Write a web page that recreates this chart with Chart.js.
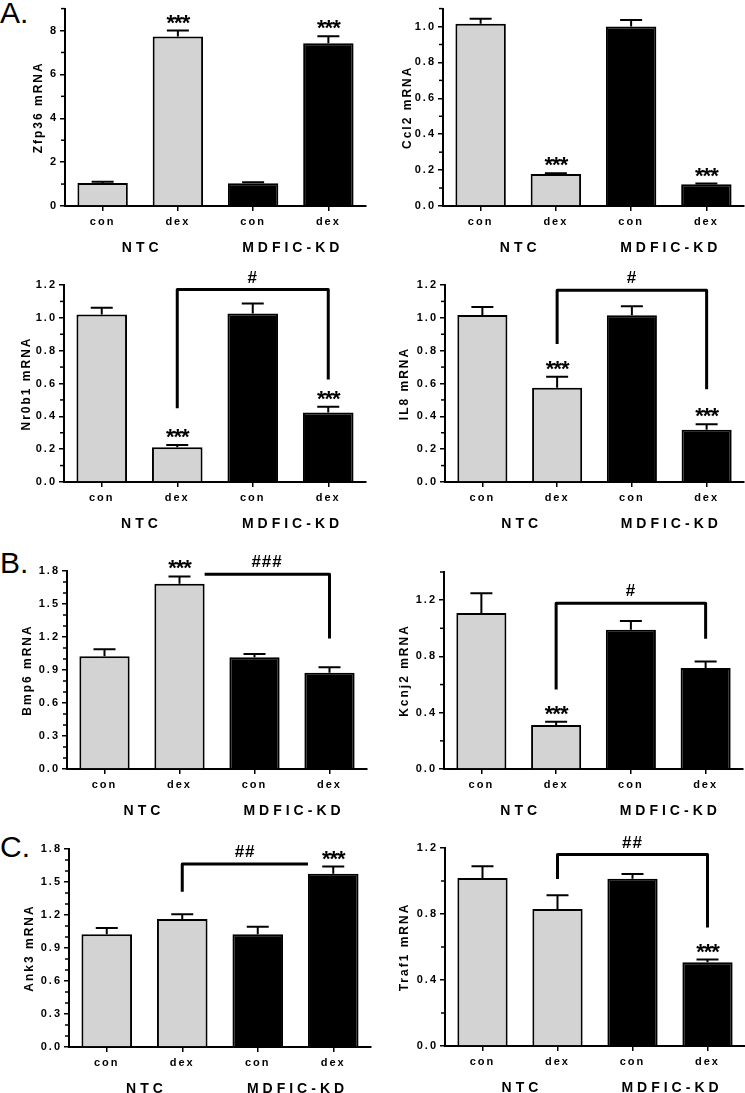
<!DOCTYPE html>
<html>
<head>
<meta charset="utf-8">
<script src="https://cdn.jsdelivr.net/npm/chart.js@4"></script>
<style>
  body { margin: 0; background: #fff; }
  #fig { position: relative; width: 745px; height: 1093px; overflow: hidden; }
  #fig canvas { position: absolute; }
  .tag { position: absolute; left: 0; font: 30px 'Liberation Sans', Arial, sans-serif; line-height: 1; color: #000; }
</style>
</head>
<body>
<div id="fig">
  <div class="tag" style="top:-2px">A.</div>
  <div class="tag" style="top:548px">B.</div>
  <div class="tag" style="top:832px">C.</div>
</div>
<script>
const conditions = ['con', 'dex', 'con', 'dex'];
const groups = ['NTC', 'MDFIC-KD'];

// mean and upper SEM for each gene, bars in order NTC con/dex, MDFIC-KD con/dex
const zfp36Mean = [1.05, 7.73, 1.04, 7.42];
const zfp36Sem = [0.05, 0.27, 0.04, 0.32];
const ccl2Mean = [1.015, 0.178, 1.0, 0.121];
const ccl2Sem = [0.028, 0.004, 0.037, 0.004];
const nr0b1Mean = [1.02, 0.212, 1.026, 0.423];
const nr0b1Sem = [0.042, 0.014, 0.061, 0.036];
const il8Mean = [1.018, 0.574, 1.015, 0.318];
const il8Sem = [0.048, 0.067, 0.055, 0.034];
const bmp6Mean = [1.025, 1.685, 1.016, 0.874];
const bmp6Sem = [0.064, 0.066, 0.03, 0.052];
const kcnj2Mean = [1.108, 0.313, 0.99, 0.717];
const kcnj2Sem = [0.141, 0.023, 0.062, 0.047];
const ank3Mean = [1.024, 1.163, 1.024, 1.576];
const ank3Sem = [0.057, 0.043, 0.069, 0.064];
const traf1Mean = [1.018, 0.83, 1.014, 0.508];
const traf1Sem = [0.071, 0.083, 0.028, 0.016];

// significance marks
const starsBothDex = ['', '***', '', '***'];
const starsNtcDex = ['', '***', '', ''];
const starsKdDex = ['', '', '', '***'];

const FONT = "'Liberation Sans', Arial, sans-serif";
const GREY = '#d3d3d3';

const panels = [
  { gene: 'Zfp36', mean: zfp36Mean, sem: zfp36Sem, stars: starsBothDex, max: 9, major: 2, minor: 1, dec: 0,
    box: [0, 0, 378, 268], area: [65, 8, 366, 206], titleX: 39, bracket: null },
  { gene: 'Ccl2', mean: ccl2Mean, sem: ccl2Sem, stars: starsBothDex, max: 1.1, major: 0.2, minor: 0.1, dec: 1,
    box: [380, 0, 365, 268], area: [443, 8, 744, 206], titleX: 408, bracket: null },
  { gene: 'Nr0b1', mean: nr0b1Mean, sem: nr0b1Sem, stars: starsBothDex, max: 1.2, major: 0.2, minor: 0.1, dec: 1,
    box: [0, 268, 378, 267], area: [64, 285, 366, 482], titleX: 27,
    bracket: { from: 1, fromEdge: 'center', to: 3, toEdge: 'center', top: 1.172, leg1: 0.45, leg2: 0.625, label: '#' } },
  { gene: 'IL8', mean: il8Mean, sem: il8Sem, stars: starsBothDex, max: 1.2, major: 0.2, minor: 0.1, dec: 1,
    box: [380, 268, 365, 267], area: [445, 285, 744, 482], titleX: 405,
    bracket: { from: 1, fromEdge: 'center', to: 3, toEdge: 'center', top: 1.168, leg1: 0.84, leg2: 0.565, label: '#' } },
  { gene: 'Bmp6', mean: bmp6Mean, sem: bmp6Sem, stars: starsNtcDex, max: 1.8, major: 0.3, minor: 0.1, dec: 1,
    box: [0, 535, 378, 295], area: [67, 571, 367, 769], titleX: 28,
    bracket: { from: 1, fromEdge: 'right', to: 3, toEdge: 'center', top: 1.77, leg1: null, leg2: 1.186, label: '###' } },
  { gene: 'Kcnj2', mean: kcnj2Mean, sem: kcnj2Sem, stars: starsNtcDex, max: 1.4, major: 0.4, minor: 0.2, dec: 1,
    box: [380, 535, 365, 295], area: [444, 572, 743, 769], titleX: 405,
    bracket: { from: 1, fromEdge: 'center', to: 3, toEdge: 'center', top: 1.178, leg1: 0.565, leg2: 0.925, label: '#' } },
  { gene: 'Ank3', mean: ank3Mean, sem: ank3Sem, stars: starsKdDex, max: 1.8, major: 0.3, minor: 0.1, dec: 1,
    box: [0, 830, 378, 263], area: [69, 849, 371, 1047], titleX: 30,
    bracket: { from: 1, fromEdge: 'center', to: 3, toEdge: 'left', top: 1.664, leg1: 1.412, leg2: null, label: '##' } },
  { gene: 'Traf1', mean: traf1Mean, sem: traf1Sem, stars: starsKdDex, max: 1.2, major: 0.4, minor: 0.2, dec: 1,
    box: [380, 830, 365, 263], area: [445, 848, 745, 1046], titleX: 405,
    bracket: { from: 1, fromEdge: 'center', to: 3, toEdge: 'center', top: 1.16, leg1: 1.012, leg2: 0.718, label: '##' } }
];

function makeExtras(p) {
  return {
    id: 'extras',
    beforeDraw(chart) {
      chart.ctx.letterSpacing = '2px';
    },
    afterDatasetsDraw(chart) {
      // upper error bars
      const ctx = chart.ctx;
      const y = chart.scales.y;
      const bars = chart.getDatasetMeta(0).data;
      ctx.save();
      ctx.strokeStyle = '#000';
      ctx.lineWidth = 2;
      bars.forEach((bar, i) => {
        const top = y.getPixelForValue(p.mean[i] + p.sem[i]);
        const base = y.getPixelForValue(p.mean[i]);
        ctx.beginPath();
        ctx.moveTo(bar.x, base);
        ctx.lineTo(bar.x, top);
        ctx.moveTo(bar.x - 11, top);
        ctx.lineTo(bar.x + 11, top);
        ctx.stroke();
      });
      ctx.restore();
    },
    afterDraw(chart) {
      const ctx = chart.ctx;
      const y = chart.scales.y;
      const x = chart.scales.x;
      const area = chart.chartArea;
      const bars = chart.getDatasetMeta(0).data;
      ctx.save();
      ctx.strokeStyle = '#000';
      ctx.fillStyle = '#000';

      // minor ticks on the y axis
      ctx.lineWidth = 1.5;
      for (let k = 1; k * p.minor <= p.max + 1e-9; k++) {
        const v = k * p.minor;
        const r = v / p.major;
        if (Math.abs(r - Math.round(r)) < 1e-6) continue;
        const py = y.getPixelForValue(v);
        ctx.beginPath();
        ctx.moveTo(area.left - 4, py);
        ctx.lineTo(area.left, py);
        ctx.stroke();
      }

      // group labels under the condition labels
      ctx.font = 'bold 14px ' + FONT;
      ctx.letterSpacing = '4px';
      ctx.textAlign = 'center';
      ctx.textBaseline = 'middle';
      groups.forEach((g, gi) => {
        const cx = (x.getPixelForValue(gi * 2) + x.getPixelForValue(gi * 2 + 1)) / 2;
        ctx.fillText(g, cx + 2, area.bottom + 42);
      });

      // asterisks over the error bars
      ctx.font = 'bold 22px ' + FONT;
      ctx.letterSpacing = '-1px';
      ctx.textBaseline = 'alphabetic';
      bars.forEach((bar, i) => {
        if (!p.stars[i]) return;
        const top = y.getPixelForValue(p.mean[i] + p.sem[i]);
        ctx.fillText(p.stars[i], bar.x, top - 1);
      });

      // comparison bracket
      const b = p.bracket;
      if (b) {
        const edgeX = (bar, edge) => edge === 'right' ? bar.x + bar.width / 2 : edge === 'left' ? bar.x - bar.width / 2 : bar.x;
        const x1 = edgeX(bars[b.from], b.fromEdge);
        const x2 = edgeX(bars[b.to], b.toEdge);
        const yt = y.getPixelForValue(b.top);
        ctx.lineWidth = 3;
        ctx.lineJoin = 'round';
        ctx.beginPath();
        if (b.leg1 !== null) {
          ctx.moveTo(x1, y.getPixelForValue(b.leg1));
          ctx.lineTo(x1, yt);
        } else {
          ctx.moveTo(x1, yt);
        }
        ctx.lineTo(x2, yt);
        if (b.leg2 !== null) ctx.lineTo(x2, y.getPixelForValue(b.leg2));
        ctx.stroke();
        ctx.font = 'bold 17px ' + FONT;
        ctx.letterSpacing = '1px';
        ctx.fillText(b.label, (x1 + x2) / 2, yt - 7);
      }
      ctx.restore();
    }
  };
}

const fig = document.getElementById('fig');
panels.forEach(p => {
  const canvas = document.createElement('canvas');
  canvas.width = p.box[2];
  canvas.height = p.box[3];
  canvas.style.left = p.box[0] + 'px';
  canvas.style.top = p.box[1] + 'px';
  fig.appendChild(canvas);

  const tickFont = { family: FONT, size: 11, weight: 'bold' };
  new Chart(canvas.getContext('2d'), {
    type: 'bar',
    data: {
      labels: conditions,
      datasets: [{
        data: p.mean,
        backgroundColor: [GREY, GREY, '#000', '#000'],
        borderColor: '#000',
        borderWidth: 2,
        barPercentage: 0.67,
        categoryPercentage: 1
      }]
    },
    options: {
      responsive: false,
      animation: false,
      events: [],
      layout: {
        padding: {
          left: 0,
          top: p.area[1] - p.box[1],
          right: p.box[0] + p.box[2] - p.area[2],
          bottom: 0
        }
      },
      plugins: {
        legend: { display: false },
        tooltip: { enabled: false }
      },
      scales: {
        x: {
          z: 1,
          offset: true,
          border: { color: '#000', width: 2 },
          grid: { drawOnChartArea: false, offset: false, color: '#000', tickLength: 5, lineWidth: 1.5 },
          ticks: { color: '#000', padding: 4, autoSkip: false, maxRotation: 0, font: tickFont },
          afterFit: s => { s.height = p.box[1] + p.box[3] - p.area[3]; }
        },
        y: {
          z: 1,
          min: 0,
          max: p.max,
          border: { color: '#000', width: 2 },
          grid: { drawOnChartArea: false, color: '#000', tickLength: 5, lineWidth: 1.5 },
          ticks: {
            stepSize: p.major,
            includeBounds: false,
            color: '#000',
            padding: 2,
            font: tickFont,
            callback: v => Number(v).toFixed(p.dec)
          },
          title: {
            display: true,
            text: p.gene + ' mRNA',
            color: '#000',
            font: { family: FONT, size: 12, weight: 'bold' },
            padding: { top: p.titleX - p.box[0] - 7.2, bottom: 0 }
          },
          afterFit: s => { s.width = p.area[0] - p.box[0]; }
        }
      }
    },
    plugins: [makeExtras(p)]
  });
});
</script>
</body>
</html>
